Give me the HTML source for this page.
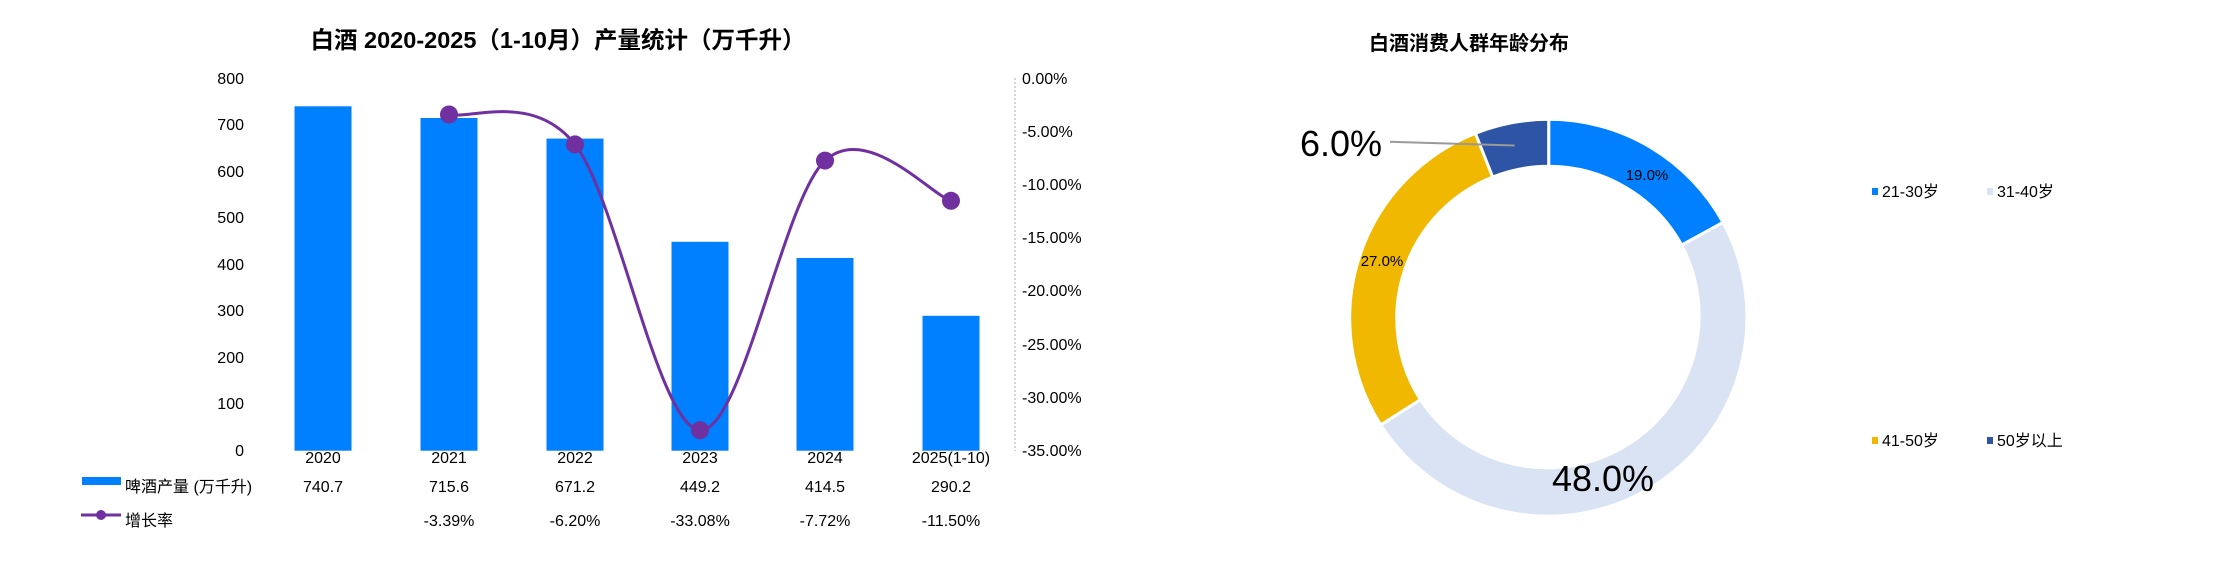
<!DOCTYPE html>
<html><head><meta charset="utf-8"><style>
html,body{margin:0;padding:0;background:#fff;}
svg{display:block;font-family:"Liberation Sans","Noto Sans CJK SC",sans-serif;}
</style></head><body>
<svg width="2216" height="574" viewBox="0 0 2216 574" xmlns="http://www.w3.org/2000/svg">
<rect width="2216" height="574" fill="#fff"/>
<text x="558" y="48" font-size="23.5" font-weight="bold" text-anchor="middle" fill="#000">白酒  2020-2025（1-10月）产量统计（万千升）</text>
<g font-size="16" fill="#000" text-anchor="end">
<text x="244" y="84">800</text><text x="244" y="130">700</text><text x="244" y="177">600</text><text x="244" y="223">500</text><text x="244" y="270">400</text><text x="244" y="316">300</text><text x="244" y="363">200</text><text x="244" y="409">100</text><text x="244" y="456">0</text>
</g>
<line x1="1015" y1="78" x2="1015" y2="451" stroke="#aaa" stroke-width="1" stroke-dasharray="2,2"/>
<g font-size="16" fill="#000">
<text x="1022" y="84">0.00%</text><text x="1022" y="137">-5.00%</text><text x="1022" y="190">-10.00%</text><text x="1022" y="243">-15.00%</text><text x="1022" y="296">-20.00%</text><text x="1022" y="350">-25.00%</text><text x="1022" y="403">-30.00%</text><text x="1022" y="456">-35.00%</text>
</g>
<g fill="#0080ff">
<rect x="294.5" y="106.3" width="57" height="344.4"/>
<rect x="420.5" y="118" width="57" height="332.7"/>
<rect x="546.5" y="138.6" width="57" height="312.1"/>
<rect x="671.5" y="241.8" width="57" height="208.9"/>
<rect x="796.5" y="258" width="57" height="192.7"/>
<rect x="922.5" y="315.8" width="57" height="134.9"/>
</g>
<path d="M449,114.5 C470,119.5 533.2,91.8 575,144.4 C616.8,197 658.3,427.5 700,430.2 C741.7,432.9 783.2,198.8 825,160.6 C866.8,122.4 930,194.1 951,200.8" fill="none" stroke="#7030a0" stroke-width="3"/>
<g fill="#7030a0">
<circle cx="449" cy="114.5" r="9"/><circle cx="575" cy="144.4" r="9"/><circle cx="700" cy="430.2" r="9"/><circle cx="825" cy="160.6" r="9"/><circle cx="951" cy="200.8" r="9"/>
</g>
<g font-size="16" fill="#000" text-anchor="middle">
<text x="323" y="463">2020</text><text x="449" y="463">2021</text><text x="575" y="463">2022</text><text x="700" y="463">2023</text><text x="825" y="463">2024</text><text x="951" y="463">2025(1-10)</text>
<text x="323" y="492">740.7</text><text x="449" y="492">715.6</text><text x="575" y="492">671.2</text><text x="700" y="492">449.2</text><text x="825" y="492">414.5</text><text x="951" y="492">290.2</text>
<text x="449" y="526">-3.39%</text><text x="575" y="526">-6.20%</text><text x="700" y="526">-33.08%</text><text x="825" y="526">-7.72%</text><text x="951" y="526">-11.50%</text>
</g>
<rect x="82" y="477" width="39" height="8" fill="#0080ff"/>
<line x1="81" y1="515" x2="121" y2="515" stroke="#7030a0" stroke-width="3"/>
<circle cx="101" cy="515" r="5" fill="#7030a0"/>
<text x="125" y="492" font-size="16" fill="#000">啤酒产量 (万千升)</text>
<text x="125" y="526" font-size="16" fill="#000">增长率</text>

<text x="1469" y="50" font-size="20" font-weight="bold" text-anchor="middle" fill="#000">白酒消费人群年龄分布</text>
<g transform="translate(1548.7,318.3)" stroke="#fff" stroke-width="3">
<path d="M0,-199 A199,199 0 0 1 174.3,-95.9 L133,-73.2 A152,152 0 0 0 0,-152 Z" fill="#0080ff"/>
<path d="M174.3,-95.9 A199,199 0 0 1 -168.0,106.6 L-128.3,81.4 A152,152 0 0 0 133,-73.2 Z" fill="#dae3f4"/>
<path d="M-168.0,106.6 A199,199 0 0 1 -73.3,-185.0 L-56,-141.3 A152,152 0 0 0 -128.3,81.4 Z" fill="#f0b800"/>
<path d="M-73.3,-185.0 A199,199 0 0 1 0,-199 L0,-152 A152,152 0 0 0 -56,-141.3 Z" fill="#2e55a5"/>
</g>
<line x1="1390" y1="141.8" x2="1514.6" y2="145.5" stroke="#999" stroke-width="2"/>
<g fill="#000" text-anchor="middle">
<text x="1647" y="180" font-size="15">19.0%</text>
<text x="1382" y="266" font-size="15">27.0%</text>
<text x="1603" y="491" font-size="36">48.0%</text>
<text x="1341" y="156" font-size="36">6.0%</text>
</g>
<g font-size="16" fill="#000">
<rect x="1872" y="188" width="6" height="7" fill="#0080ff"/><text x="1882" y="197">21-30岁</text>
<rect x="1987" y="188" width="6" height="7" fill="#dae3f4"/><text x="1997" y="197">31-40岁</text>
<rect x="1872" y="437" width="6" height="7" fill="#f0b800"/><text x="1882" y="446">41-50岁</text>
<rect x="1987" y="437" width="6" height="7" fill="#2e55a5"/><text x="1997" y="446">50岁以上</text>
</g>
</svg>
</body></html>
